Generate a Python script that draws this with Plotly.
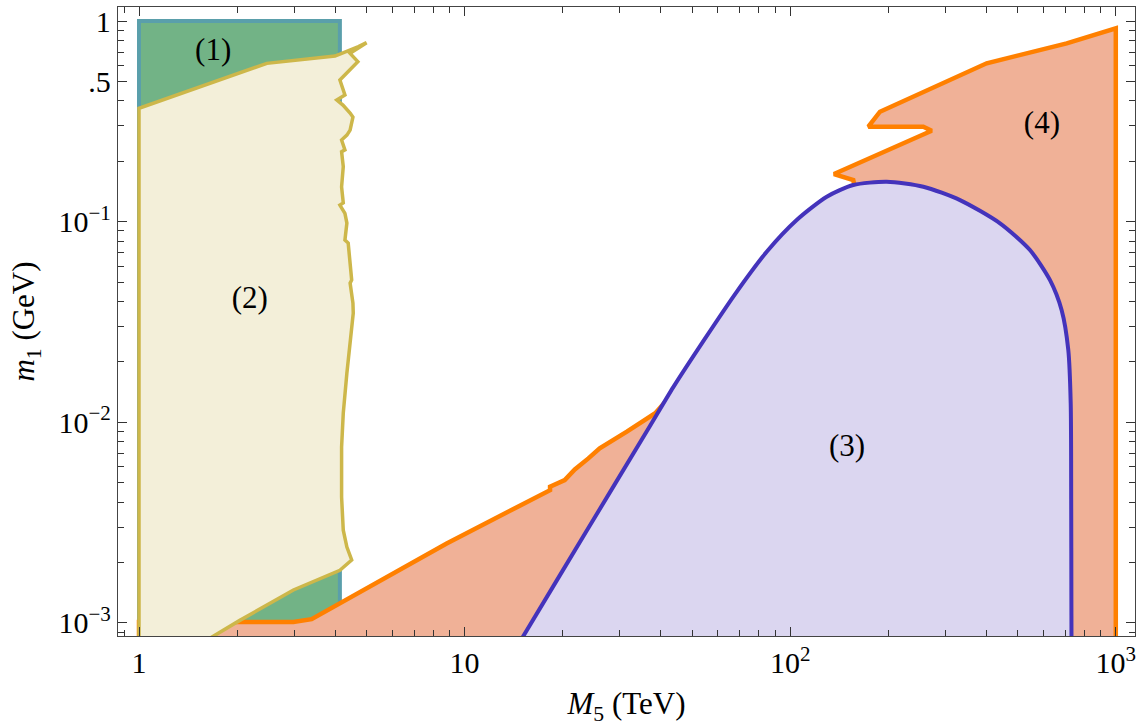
import plotly.graph_objects as go

# ---------------- data ----------------
# Region (1): rectangle
r1_x = [1, 1, 4.14, 4.14, 1]
r1_y = [7.3e-4, 1.0, 1.0, 7.3e-4, 7.3e-4]

# Region (2): cream region with jagged right edge
r2_x = [1, 1, 2.47, 4.0, 4.72, 5.0, 4.45, 4.7, 4.14, 4.29, 4.05, 4.23, 4.45, 4.54,
        4.45, 4.35, 4.19, 4.29, 4.19, 4.24, 4.19, 4.24, 4.14, 4.29, 4.35, 4.29,
        4.39, 4.45, 4.50, 4.45, 4.54, 4.55, 4.45, 4.35, 4.24, 4.19, 4.19, 4.24,
        4.35, 4.50, 4.14, 2.98, 2.04, 1.43, 1]
r2_y = [7.3e-4, 0.367, 0.615, 0.669, 0.745, 0.78, 0.69, 0.627, 0.508, 0.428, 0.404,
        0.381, 0.348, 0.332, 0.286, 0.270, 0.255, 0.228, 0.223, 0.188, 0.149,
        0.124, 0.121, 0.110, 0.0984, 0.0810, 0.0782, 0.0594, 0.0512, 0.0494,
        0.0393, 0.0350, 0.0257, 0.0176, 0.0111, 0.00752, 0.00424, 0.00290,
        0.00239, 0.00206, 0.00183, 0.00146, 0.00103, 7.3e-4, 7.3e-4]

# Region (3): lavender region
r3_x = [14.28, 15.15, 23.56, 36.7, 43.75, 54.1, 68.5, 84.7, 104.7, 129.5, 156.2,
        197.9, 256.4, 332.3, 441, 545, 628, 682, 714.8, 727, 729.5, 730.5, 731, 731, 14.28]
r3_y = [7.3e-4, 8.6e-4, 0.002829, 0.00932, 0.01498, 0.02540, 0.04471, 0.07079,
        0.1019, 0.1331, 0.1522, 0.1581, 0.1493, 0.1281, 0.0981, 0.0722, 0.0511,
        0.0362, 0.0229, 0.01242, 0.00409, 0.0013, 8.6e-4, 7.3e-4, 7.3e-4]

# Region (4): salmon region
r4_x = [1, 1, 2.04, 2.98, 3.39, 8.81, 18.3, 18.3, 20.3, 21.8, 24.0, 26.0,
        31.5, 38.5, 158.1, 156.2, 136.3, 272, 256.4, 173.8, 188.7, 374, 401.3,
        706.8, 1000, 1000, 1]
r4_y = [7.3e-4, 0.00101, 0.00101, 0.00101, 0.001045, 0.00249, 0.00459,
        0.00477, 0.00515, 0.00582, 0.00661, 0.00741, 0.00898, 0.0111, 0.1471,
        0.1612, 0.1727, 0.2838, 0.2972, 0.2972, 0.3530, 0.581, 0.6155, 0.774,
        0.920, 7.3e-4, 7.3e-4]

# region labels
lab_text = ["(1)", "(2)", "(3)", "(4)"]
lab_x = [1.69, 2.19, 149.4, 593]
lab_y = [0.70, 0.0407, 0.00744, 0.303]

# axis ticks
x_major = [1, 10, 100, 1000]
x_major_text = ["1", "10", "10<sup>2</sup>", "10<sup>3</sup>"]
x_minor = [0.9] + [k * 10 ** e for e in range(0, 3) for k in range(2, 10)]
y_major = [0.001, 0.01, 0.1, 0.5, 1]
y_major_text = ["10<sup>\u22123</sup>", "10<sup>\u22122</sup>", "10<sup>\u22121</sup>", ".5", "1"]
y_minor = [9e-4] + [k * 10 ** e for e in (-3, -2) for k in range(2, 10)] + [0.2, 0.3, 0.4, 0.6, 0.7, 0.8, 0.9]

FONT = "Liberation Serif"
FS = 31

fig = go.Figure()

fig.add_trace(go.Scatter(x=r1_x, y=r1_y, mode="lines", fill="toself",
                         fillcolor="#72b386", line=dict(color="#5a9fab", width=4),
                         hoverinfo="skip", showlegend=False))
fig.add_trace(go.Scatter(x=r4_x, y=r4_y, mode="lines", fill="toself",
                         fillcolor="#f0b197", line=dict(color="#ff8000", width=4.5),
                         hoverinfo="skip", showlegend=False))
fig.add_trace(go.Scatter(x=r2_x, y=r2_y, mode="lines", fill="toself",
                         fillcolor="#f3efd9", line=dict(color="#cdb74a", width=3.5),
                         hoverinfo="skip", showlegend=False))
fig.add_trace(go.Scatter(x=r3_x, y=r3_y, mode="lines", fill="toself",
                         fillcolor="#dbd6f0", line=dict(color="#4433bb", width=4, shape="spline", smoothing=0.7),
                         hoverinfo="skip", showlegend=False))
fig.add_trace(go.Scatter(x=lab_x, y=lab_y, mode="text", text=lab_text,
                         textfont=dict(family=FONT, size=FS, color="black"),
                         hoverinfo="skip", showlegend=False))

axis_common = dict(
    type="log", showgrid=False, zeroline=False, showline=True, linecolor="#444444",
    linewidth=1.3, mirror="ticks", ticks="inside", ticklen=9, tickwidth=1,
    tickcolor="#333333", tickfont=dict(family=FONT, size=30, color="black"),
)

fig.update_xaxes(
    **axis_common, range=[-0.0645, 3.059], tickmode="array",
    tickvals=x_major, ticktext=x_major_text,
    minor=dict(ticks="inside", ticklen=6, tickcolor="#333333", tickmode="array", tickvals=x_minor),
    title=dict(text="<i>M</i><sub>5</sub> (TeV)", font=dict(family=FONT, size=FS, color="black"), standoff=16),
)
fig.update_yaxes(
    **axis_common, range=[-3.065, 0.0698], tickmode="array",
    tickvals=y_major, ticktext=y_major_text,
    minor=dict(ticks="inside", ticklen=6, tickcolor="#333333", tickmode="array", tickvals=y_minor),
    title=dict(text="<i>m</i><sub>1</sub> (GeV)", font=dict(family=FONT, size=FS, color="black"), standoff=14),
)

fig.update_layout(
    width=1141, height=726,
    margin=dict(l=118, r=6, t=7, b=90, autoexpand=False),
    paper_bgcolor="white", plot_bgcolor="white",
)

fig.write_html("out.html")
